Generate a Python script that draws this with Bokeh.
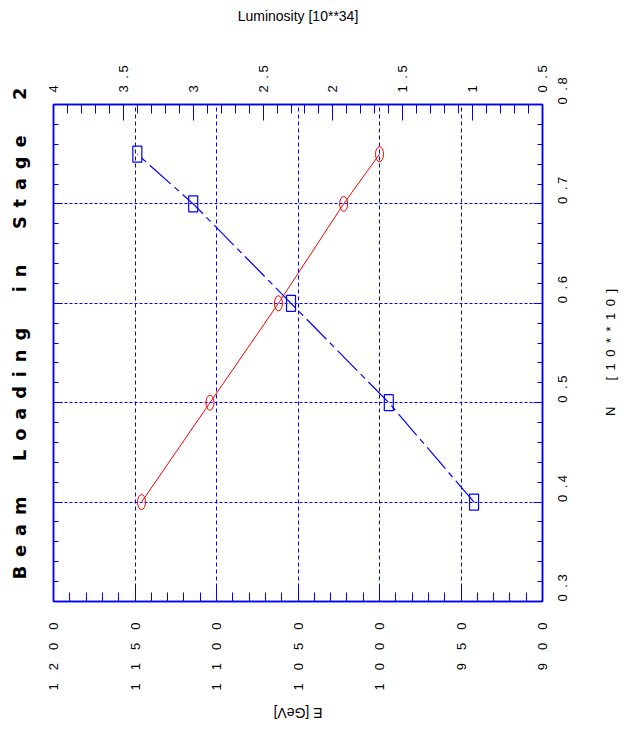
import math
from bokeh.plotting import figure
from bokeh.models import Range1d, LinearAxis, FixedTicker, CustomJSTickFormatter
from bokeh.embed import file_html
from bokeh.resources import INLINE

# ---- data ----
n_values = [0.4, 0.5, 0.6, 0.7, 0.75]          # N [10**10]
energy_gev = [1146, 1104, 1062, 1022, 1000]     # E [GeV]   (red circles)
luminosity = [0.99, 1.60, 2.30, 3.00, 3.40]     # Luminosity [10**34] (blue squares)

e_ticks = [1200, 1150, 1100, 1050, 1000, 950, 900]
e_tick_labels = ["1200", "1150", "1100", "1050", "1000", "950", "900"]
n_ticks = [0.3, 0.4, 0.5, 0.6, 0.7, 0.8]
n_tick_labels = ["0.3", "0.4", "0.5", "0.6", "0.7", "0.8"]
lum_ticks = [4, 3.5, 3, 2.5, 2, 1.5, 1, 0.5]
lum_tick_labels = ["4", "3.5", "3", "2.5", "2", "1.5", "1", "0.5"]

title_text = "Beam Loading in Stage 2"
e_label = "E [GeV]"
n_label = "N [10**10]"
lum_label = "Luminosity [10**34]"

EM, EN, THIN = "\u2003", "\u2002", "\u2009"


def wide_int(s):
    return EM.join(s)


def wide_dec(s):
    if "." in s:
        a, b = s.split(".")
        return a + EN + "." + THIN + b
    return s


def wide_title(s):
    return (EM + EM).join(EN.join(w) for w in s.split(" "))


def wide_axis(s):
    head, tail = s.split(" ")
    return head + EM + EM + EN.join(tail)


FONT = "Liberation Sans"
BLUE = "#0000ff"
CCW = math.pi / 2             # bottom-to-top on the top/bottom axes
CCW_RIGHT = -3 * math.pi / 2  # bottom-to-top on the right side

e_min, e_max = 1200, 900
n_min, n_max = 0.3, 0.8
lum_min, lum_max = 4, 0.5

FW, FH = 489, 497
px_per_e = FW / abs(e_max - e_min)
px_per_n = FH / (n_max - n_min)

p = figure(
    frame_width=FW, frame_height=FH,
    x_range=Range1d(e_min, e_max), y_range=Range1d(n_min, n_max),
    x_axis_location="below", y_axis_location="right",
    output_backend="svg", toolbar_location=None,
    min_border_left=53, min_border_right=80, min_border_top=104, min_border_bottom=125,
)
p.extra_x_ranges = {"lum": Range1d(lum_min, lum_max)}
p.outline_line_color = BLUE
p.outline_line_width = 1.5
p.background_fill_color = "white"
p.border_fill_color = "white"

n_minor = [round(0.3 + 0.02 * i, 2) for i in range(26)]

# bottom axis: E with rotated tick labels
xa = p.xaxis[0]
xa.ticker = FixedTicker(ticks=e_ticks, minor_ticks=list(range(900, 1201, 10)))
xa.major_label_overrides = {t: wide_int(l) for t, l in zip(e_ticks, e_tick_labels)}
xa.major_label_orientation = CCW
xa.major_label_standoff = 21
xa.major_label_text_font_size = "13px"

# helper below axis carrying the upside-down "E [GeV]" label, centred on the frame
e_label_px = 49
xel = LinearAxis(ticker=FixedTicker(ticks=[(e_min + e_max) / 2 + (e_label_px / 2) / px_per_e]),
                 formatter=CustomJSTickFormatter(args=dict(lab=e_label), code="return lab"))
xel.major_label_orientation = math.pi
xel.major_label_standoff = 13
xel.major_label_text_font_size = "14px"
p.add_layout(xel, "below")

# right axis: N
ya = p.yaxis[0]
ya.ticker = FixedTicker(ticks=n_ticks, minor_ticks=n_minor)
ya.major_label_overrides = {t: wide_dec(l) for t, l in zip(n_ticks, n_tick_labels)}
ya.major_label_orientation = CCW_RIGHT
ya.major_label_standoff = 20
ya.major_label_text_font_size = "13px"

# helper right axis carrying the "N [10**10]" title; the text starts at its anchor and
# runs upward, so the anchor sits half the text length below the frame centre
n_label_px = 126
yel = LinearAxis(ticker=FixedTicker(ticks=[(n_min + n_max) / 2 - (n_label_px / 2) / px_per_n]),
                 formatter=CustomJSTickFormatter(args=dict(lab=wide_axis(n_label)), code="return lab"))
yel.major_label_orientation = CCW_RIGHT
yel.major_label_standoff = 24
yel.major_label_text_font_size = "13px"
p.add_layout(yel, "right")

for ax in (xel, yel):
    ax.axis_line_color = None
    ax.major_tick_line_color = None
    ax.minor_tick_line_color = None

# left axis: ticks, with the title as its label (reads bottom-to-top)
la = LinearAxis(ticker=FixedTicker(ticks=n_ticks, minor_ticks=n_minor))
la.axis_label = EM + EM + THIN + wide_title(title_text)
la.axis_label_text_font = "DejaVu Sans"
la.axis_label_text_font_style = "bold"
la.axis_label_text_font_size = "17.8px"
la.axis_label_text_color = "black"
la.axis_label_standoff = 24
la.major_label_text_color = None
la.major_label_text_font_size = "1px"
la.major_label_standoff = 0
p.add_layout(la, "left")

# top axis: luminosity
ta = LinearAxis(x_range_name="lum",
                ticker=FixedTicker(ticks=lum_ticks, minor_ticks=[round(0.5 + 0.1 * i, 1) for i in range(36)]),
                axis_label=lum_label)
ta.major_label_overrides = {t: wide_dec(l) for t, l in zip(lum_ticks, lum_tick_labels)}
ta.major_label_orientation = CCW
ta.major_label_standoff = 12
ta.major_label_text_font_size = "13px"
ta.axis_label_standoff = 38
ta.axis_label_text_font = FONT
ta.axis_label_text_font_style = "normal"
ta.axis_label_text_font_size = "14px"
ta.axis_label_text_color = "black"
p.add_layout(ta, "above")

for ax in (xa, ya, la, ta):
    ax.axis_line_color = BLUE
    ax.axis_line_width = 1.5
    ax.major_tick_line_color = BLUE
    ax.minor_tick_line_color = BLUE
    ax.major_tick_out = 0
    ax.minor_tick_out = 0
for ax in (xa, ta, xel, ya, yel):
    ax.major_label_text_font = FONT
    ax.major_label_text_color = "black"
for ax in (xa, ta):
    ax.major_tick_in = 16
    ax.minor_tick_in = 9
for ax in (ya, la):
    ax.major_tick_in = 9
    ax.minor_tick_in = 5

# grids
p.xgrid.grid_line_color = BLUE
p.xgrid.grid_line_dash = "4 3"
p.xgrid.grid_line_width = 1
p.ygrid.grid_line_color = BLUE
p.ygrid.grid_line_dash = "3 2"
p.ygrid.grid_line_width = 1

# red: E vs N
p.line(energy_gev, n_values, line_color="red", line_width=1)
p.ellipse(energy_gev, n_values, width=8, height=15, width_units="screen", height_units="screen",
          fill_color=None, line_color="red", line_width=1)

# blue: luminosity vs N
p.line(luminosity, n_values, x_range_name="lum", line_color=BLUE, line_width=1.2, line_dash="28 5 6 5")
p.rect(luminosity, n_values, x_range_name="lum", width=9, height=16, width_units="screen",
       height_units="screen", fill_color=None, line_color=BLUE, line_width=1.2)

open("out.html", "w").write(file_html(p, INLINE))
